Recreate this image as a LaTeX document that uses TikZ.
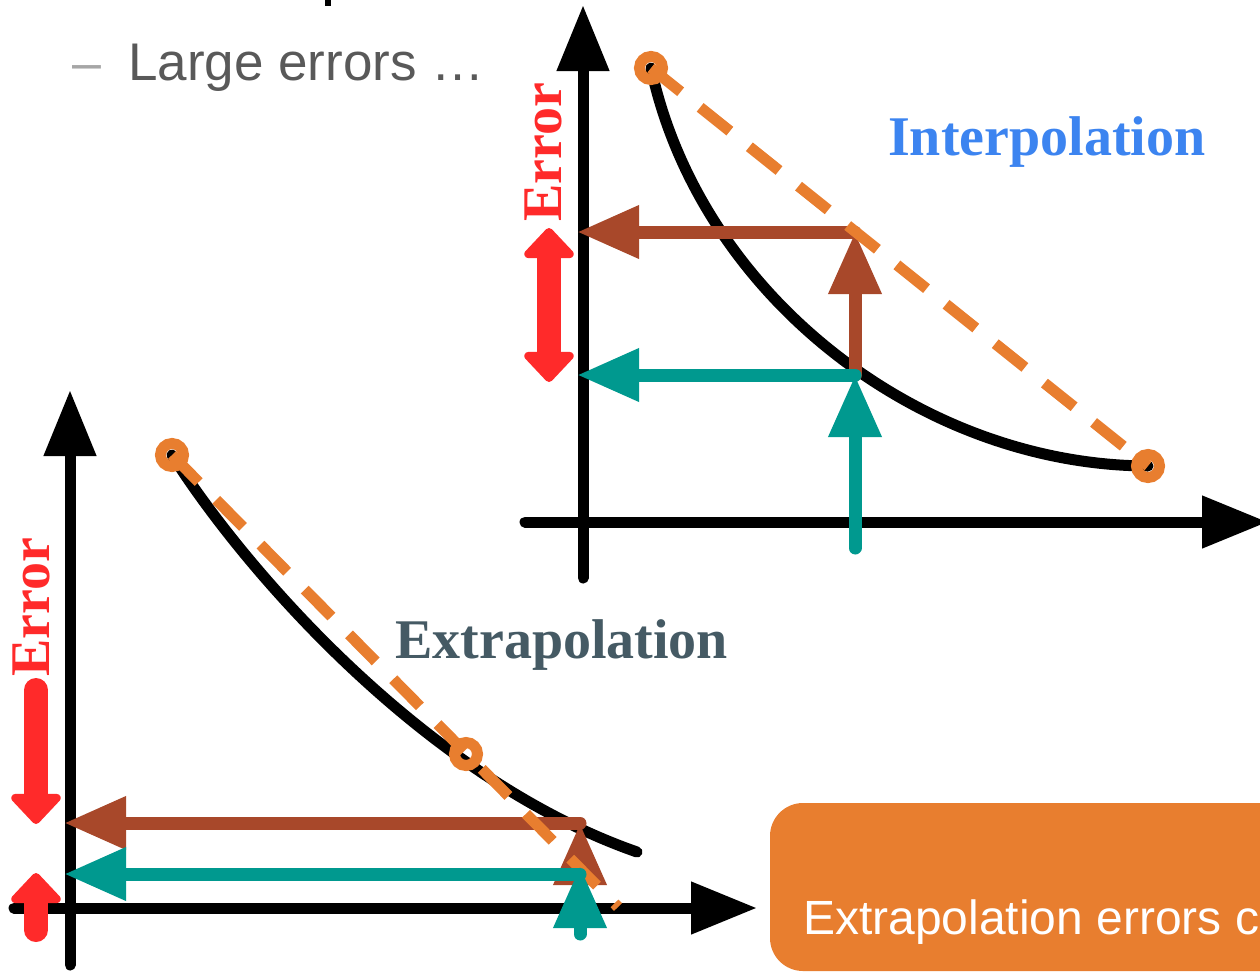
\documentclass[tikz,border=0pt]{standalone}
\usepackage{fontspec}
\setmainfont{Liberation Serif}
\newfontfamily\slidefont{Liberation Sans}
\usetikzlibrary{arrows.meta}

\definecolor{errred}{HTML}{FF2A2A}
\definecolor{fitorange}{HTML}{E87E2F}
\definecolor{hibrown}{HTML}{A8482A}
\definecolor{loteal}{HTML}{00998F}
\definecolor{interblue}{HTML}{3C84F0}
\definecolor{extraslate}{HTML}{455A64}
\definecolor{bulletgray}{HTML}{595959}
\definecolor{dashgray}{HTML}{A6A6A6}

\tikzset{
  axis/.style={line width=11pt,line cap=round,-{Triangle[length=66pt,width=50pt]}},
  trace/.style={line width=13pt,line cap=round,-{Triangle[length=62pt,width=50pt]}},
  errbar/.style={errred,line width=24pt,line cap=round},
  errtip/.tip={Triangle[round,length=32pt,width=58pt]},
  fitline/.style={fitorange,line width=11pt,dash pattern=on 38pt off 25pt},
  knot/.style={fitorange,line width=11pt},
  decay/.style={line width=11pt,line cap=round},
  label/.style={inner sep=0pt,font=\bfseries\fontsize{56}{60}\selectfont}
}

\begin{document}
\begin{tikzpicture}[x=1pt,y=-1pt]
  \useasboundingbox (0,0) rectangle (1260,972);
  \clip (0,0) rectangle (1260,972);

  % Bullet line
  \fill (325,0) rectangle (331,6);
  \node[anchor=base west,inner sep=0pt,text=dashgray,font=\slidefont\fontsize{52}{60}\selectfont] (dash) at (72,80) {–};
  \node[anchor=base west,inner sep=0pt,text=bulletgray,font=\slidefont\fontsize{53}{60}\selectfont] (bullet) at (128,80) {Large errors …};

  % Interpolation: axes
  \draw[axis] (583,578) -- (583,5);
  \draw[axis] (525,522) -- (1268,522);

  % Interpolation: curve and fit
  \coordinate (ia) at (651,68);
  \coordinate (ib) at (1148,466);
  \coordinate (ihi) at (855,232);
  \coordinate (ilo) at (855,375);
  \draw[decay] (ia) .. controls (700,295) and (920,465) .. (ib);
  \draw[trace,hibrown] (ilo) -- (ihi);
  \draw[trace,hibrown] (ihi) -- (577,232);
  \draw[fitline] (ia) -- (ib);
  \draw[trace,loteal] (ilo) -- (577,375);
  \draw[trace,loteal] (855,548) -- (ilo);
  \draw[knot] (ia) circle (11.5pt);
  \draw[knot] (ib) circle (11.5pt);

  % Interpolation: error bar and labels
  \draw[errbar,errtip-errtip] (549,228) -- (549,382);
  \node[label,rotate=90,text=errred] (ierr) at (543,152) {Error};
  \node[label,anchor=base west,text=interblue] (ilabel) at (888,155) {Interpolation};

  % Extrapolation: axes
  \draw[axis] (70,965) -- (70,390);
  \draw[axis] (14,908) -- (757,908);

  % Extrapolation: curve and fit
  \coordinate (ea) at (172,455);
  \coordinate (eb) at (466,754);
  \coordinate (ehi) at (580,823);
  \coordinate (elo) at (580,874);
  \draw[decay] (ea) .. controls (245,570) and (425,778) .. (637,852);
  \draw[trace,hibrown] (580,885) -- (ehi);
  \draw[trace,hibrown] (ehi) -- (64,823);
  \draw[fitline] (ea) -- (618,907);
  \draw[trace,loteal] (elo) -- (64,874);
  \draw[trace,loteal] (580,934) -- (580,866);
  \draw[knot] (ea) circle (11.5pt);
  \draw[knot] (eb) circle (11.5pt);

  % Extrapolation: error bars and labels
  \draw[errbar,-errtip] (36,690) -- (36,824);
  \draw[errbar,-errtip] (36,930) -- (36,873);
  \node[label,rotate=90,text=errred] (eerr) at (31,607) {Error};
  \node[label,anchor=base west,text=extraslate] (elabel) at (395,658) {Extrapolation};

  % Callout box
  \fill[fitorange,rounded corners=33pt] (770,803) rectangle (1420,971);
  \node[anchor=base west,inner sep=0pt,text=white,font=\slidefont\fontsize{48}{56}\selectfont] (callout) at (803,934) {Extrapolation errors c};
\end{tikzpicture}
\end{document}
